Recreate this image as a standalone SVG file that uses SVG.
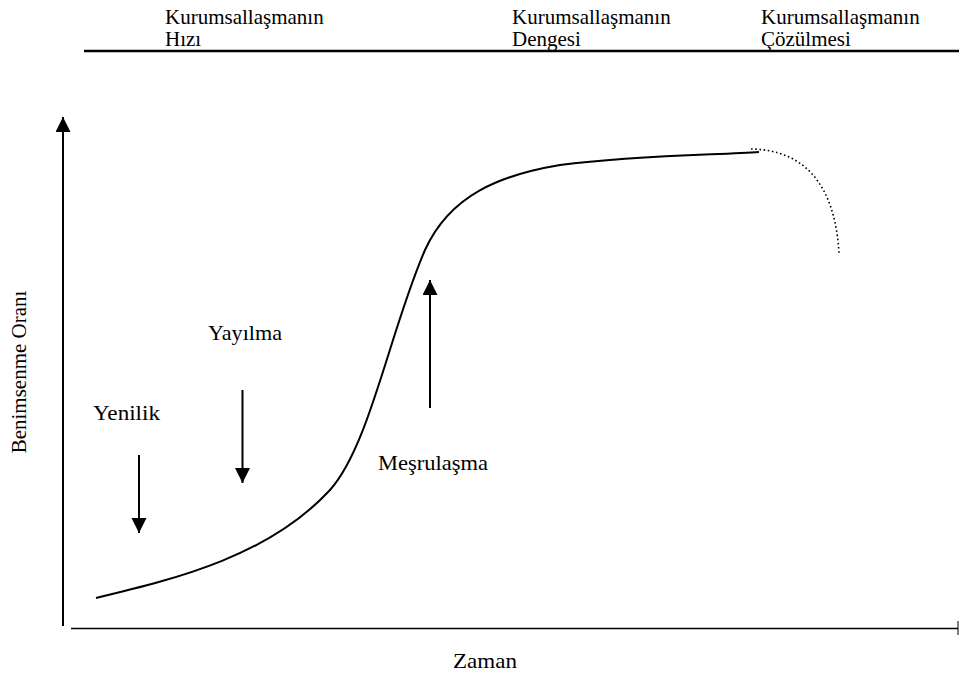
<svg xmlns="http://www.w3.org/2000/svg" width="959" height="675" viewBox="0 0 959 675" font-family="'Liberation Serif', 'DejaVu Serif', serif">
<style>
text{font-family:'Liberation Serif','DejaVu Serif',serif;font-size:21px;fill:#000}
.ln{stroke:#000;stroke-width:2;fill:none}
</style>
<defs>
<marker id="ah" markerUnits="userSpaceOnUse" markerWidth="16" markerHeight="16" refX="15" refY="7.5" orient="auto">
<path d="M0,0 L15,7.5 L0,15 Z" fill="#000"/>
</marker>
</defs>
<rect width="959" height="675" fill="#fff"/>
<g id="header">
<line x1="84" y1="51" x2="959" y2="51" stroke="#000" stroke-width="2.5"/>
<text x="165" y="24">Kurumsallaşmanın</text>
<text x="165" y="46">Hızı</text>
<text x="512" y="24">Kurumsallaşmanın</text>
<text x="512" y="46">Dengesi</text>
<text x="761" y="24">Kurumsallaşmanın</text>
<text x="761" y="46">Çözülmesi</text>
</g>
<g id="axes">
<line class="ln" x1="63" y1="626" x2="63" y2="117" marker-end="url(#ah)"/>
<line x1="71" y1="628.5" x2="958" y2="628.5" stroke="#000" stroke-width="1.7"/>
<line x1="958" y1="621" x2="958" y2="635" stroke="#000" stroke-width="1"/>
<text x="453" y="668" textLength="64" lengthAdjust="spacingAndGlyphs">Zaman</text>
<text transform="translate(26,372) rotate(-90)" text-anchor="middle">Benimsenme Oranı</text>
</g>
<g id="curve">
<path class="ln" d="M96,598 C180,578 270,555 330,490 C370,445 390,330 425,250 C450,195 500,175 560,165 C640,155 720,155 759,152"/>
<path d="M751,149 C805,150 835,185 839,253" fill="none" stroke="#000" stroke-width="1.6" stroke-dasharray="1.6,2.6"/>
</g>
<g id="connectors">
<line class="ln" x1="139" y1="455" x2="139" y2="533" marker-end="url(#ah)"/>
<line class="ln" x1="242.5" y1="390" x2="242.5" y2="483" marker-end="url(#ah)"/>
<line class="ln" x1="430" y1="408" x2="430" y2="280" marker-end="url(#ah)"/>
</g>
<g id="yenilik"><text x="93" y="420" textLength="67" lengthAdjust="spacingAndGlyphs">Yenilik</text></g>
<g id="yayilma"><text x="208" y="340" textLength="74" lengthAdjust="spacingAndGlyphs">Yayılma</text></g>
<g id="mesrulasma"><text x="378" y="470" textLength="110" lengthAdjust="spacingAndGlyphs">Meşrulaşma</text></g>
</svg>
